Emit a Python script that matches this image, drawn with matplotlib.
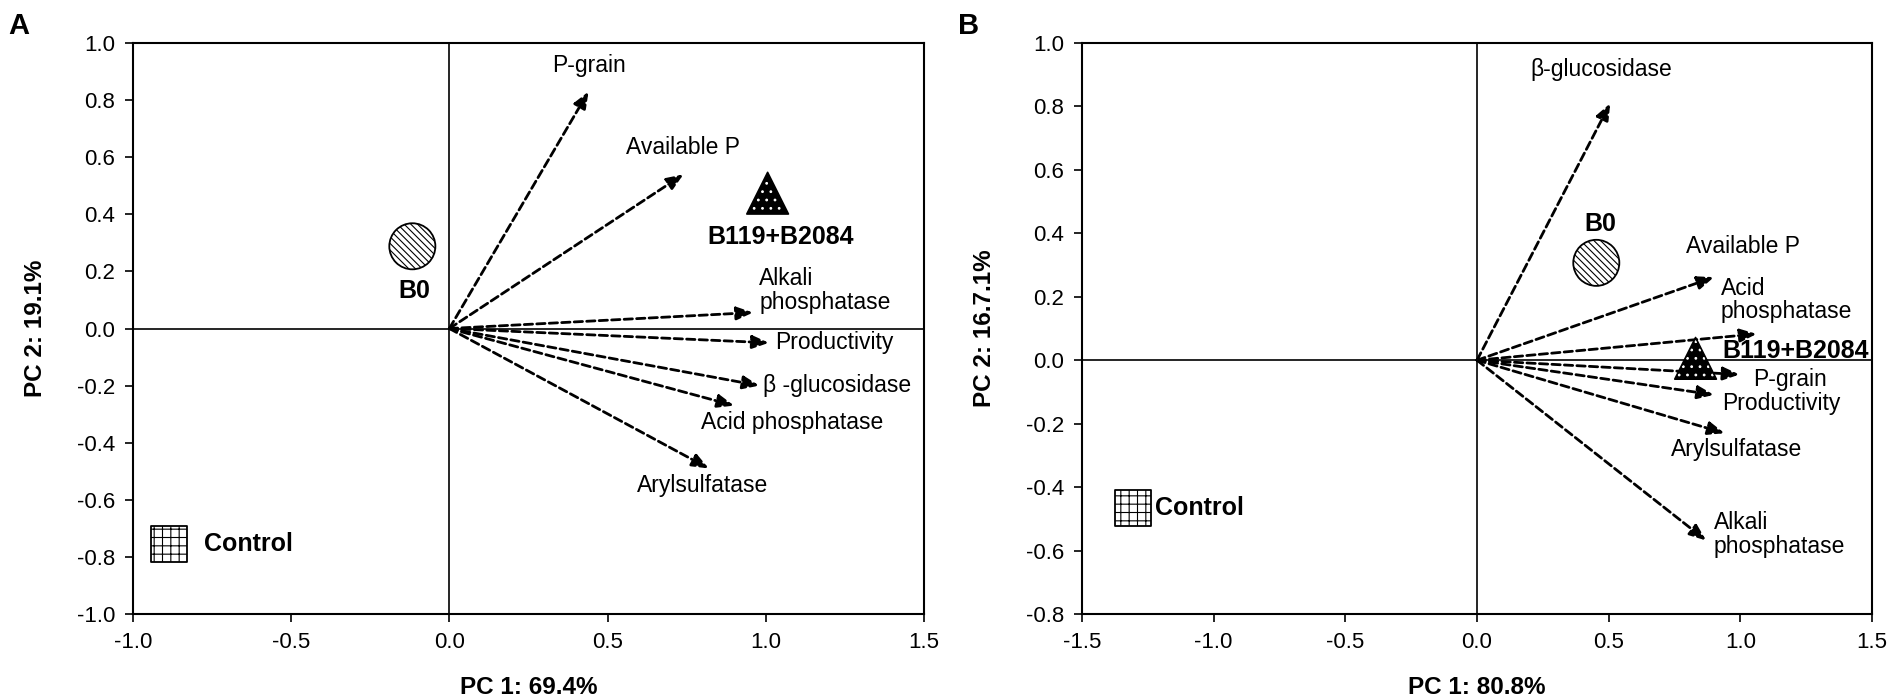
import matplotlib
matplotlib.use("Agg")
import matplotlib.pyplot as plt
from matplotlib.ticker import FormatStrFormatter

plt.rcParams["font.family"] = ["Liberation Sans", "DejaVu Sans"]
plt.rcParams["axes.unicode_minus"] = False
plt.rcParams["hatch.linewidth"] = 0.8

# Panel A loadings (PC1 69.4%, PC2 19.1%)
vars_a = ["P-grain", "Available P", "Alkali\nphosphatase", "Productivity",
          "β -glucosidase", "Acid phosphatase", "Arylsulfatase"]
pc1_a = [0.44, 0.74, 0.96, 1.01, 0.98, 0.90, 0.82]
pc2_a = [0.83, 0.54, 0.056, -0.05, -0.20, -0.27, -0.49]

# Panel B loadings (PC1 80.8%, PC2 16.7%)
vars_b = ["β-glucosidase", "Available P", "Acid\nphosphatase", "P-grain",
          "Productivity", "Arylsulfatase", "Alkali\nphosphatase"]
pc1_b = [0.506, 0.90, 1.062, 0.997, 0.90, 0.94, 0.87]
pc2_b = [0.81, 0.262, 0.083, -0.045, -0.109, -0.23, -0.568]

# Treatment scores
samples = ["B0", "B119+B2084", "Control"]
score1_a = [-0.117, 1.006, -0.886]
score2_a = [0.288, 0.474, -0.754]
score1_b = [0.453, 0.83, -1.306]
score2_b = [0.307, 0.006, -0.466]

# where the variable / treatment names sit (x, y, ha)
varlab_a = [(0.44, 0.92, "center"), (0.74, 0.635, "center"), (0.98, 0.133, "left"),
            (1.03, -0.049, "left"), (0.99, -0.20, "left"), (0.795, -0.33, "left"),
            (0.80, -0.55, "center")]
varlab_b = [(0.47, 0.917, "center"), (1.01, 0.358, "center"), (0.925, 0.19, "left"),
            (1.05, -0.061, "left"), (0.93, -0.137, "left"), (0.735, -0.28, "left"),
            (0.90, -0.55, "left")]
samplab_a = [(-0.11, 0.13, "center"), (1.047, 0.32, "center"), (-0.775, -0.754, "left")]
samplab_b = [(0.47, 0.43, "center"), (0.933, 0.03, "left"), (-1.222, -0.466, "left")]


def draw_panel(ax, pc1, pc2, names, varlab, s1, s2, samplab, xlim, ylim, xlabel, ylabel, letter):
    ax.set_xlim(*xlim)
    ax.set_ylim(*ylim)
    ax.axhline(0, color="black", lw=1.2, zorder=1)
    ax.axvline(0, color="black", lw=1.2, zorder=1)

    for x, y, name, (lx, ly, ha) in zip(pc1, pc2, names, varlab):
        ax.annotate("", xy=(x, y), xytext=(0, 0),
                    arrowprops=dict(arrowstyle="-|>,head_length=0.55,head_width=0.22",
                                    linestyle=(0, (3, 1.5)), lw=2, color="black",
                                    mutation_scale=18, shrinkA=0, shrinkB=0),
                    zorder=2)
        ax.text(lx, ly, name, ha=ha, va="center", fontsize=16.5, linespacing=1.05, zorder=4)

    # B0: hatched circle
    ax.scatter(s1[0], s2[0], s=1100, marker="o", facecolor="white", edgecolor="black",
               hatch="\\\\\\\\\\", linewidth=1.3, zorder=3)
    # B119+B2084: black triangle with white dots
    ax.scatter(s1[1], s2[1], s=900, marker="^", facecolor="black", edgecolor="white",
               hatch="..", linewidth=0, zorder=3)
    ax.scatter(s1[1], s2[1], s=900, marker="^", facecolor="none", edgecolor="black",
               linewidth=1.2, zorder=3)
    # Control: gridded square
    ax.scatter(s1[2], s2[2], s=680, marker="s", facecolor="white", edgecolor="black",
               hatch="++", linewidth=1.3, zorder=3)

    for name, (lx, ly, ha) in zip(samples, samplab):
        ax.text(lx, ly, name, ha=ha, va="center", fontsize=18, fontweight="bold", zorder=4)

    ax.set_xticks([t / 2 for t in range(int(xlim[0] * 2), int(xlim[1] * 2) + 1)])
    ax.set_yticks([round(ylim[0] + 0.2 * i, 1) for i in range(int(round((ylim[1] - ylim[0]) / 0.2)) + 1)])
    ax.xaxis.set_major_formatter(FormatStrFormatter("%.1f"))
    ax.yaxis.set_major_formatter(FormatStrFormatter("%.1f"))
    ax.tick_params(direction="out", length=6, width=1.2, labelsize=16, pad=7,
                   top=False, right=False)
    for sp in ax.spines.values():
        sp.set_linewidth(1.5)

    ax.text(0.5, -0.108, xlabel, transform=ax.transAxes, ha="center", va="top",
            fontsize=17.5, fontweight="bold")
    ax.text(-0.123, 0.5, ylabel, transform=ax.transAxes, ha="center", va="center",
            rotation=90, fontsize=17.5, fontweight="bold")
    ax.text(-0.144, 1.03, letter, transform=ax.transAxes, ha="center", va="center",
            fontsize=21, fontweight="bold")


fig = plt.figure(figsize=(18.89, 6.96), dpi=100)
ax_a = fig.add_axes([0.0704, 0.1178, 0.4187, 0.8204])
ax_b = fig.add_axes([0.5728, 0.1178, 0.4182, 0.8204])

draw_panel(ax_a, pc1_a, pc2_a, vars_a, varlab_a, score1_a, score2_a, samplab_a,
           (-1.0, 1.5), (-1.0, 1.0), "PC 1: 69.4%", "PC 2: 19.1%", "A")
draw_panel(ax_b, pc1_b, pc2_b, vars_b, varlab_b, score1_b, score2_b, samplab_b,
           (-1.5, 1.5), (-0.8, 1.0), "PC 1: 80.8%", "PC 2: 16.7.1%", "B")

fig.savefig("out.png", dpi=100)
